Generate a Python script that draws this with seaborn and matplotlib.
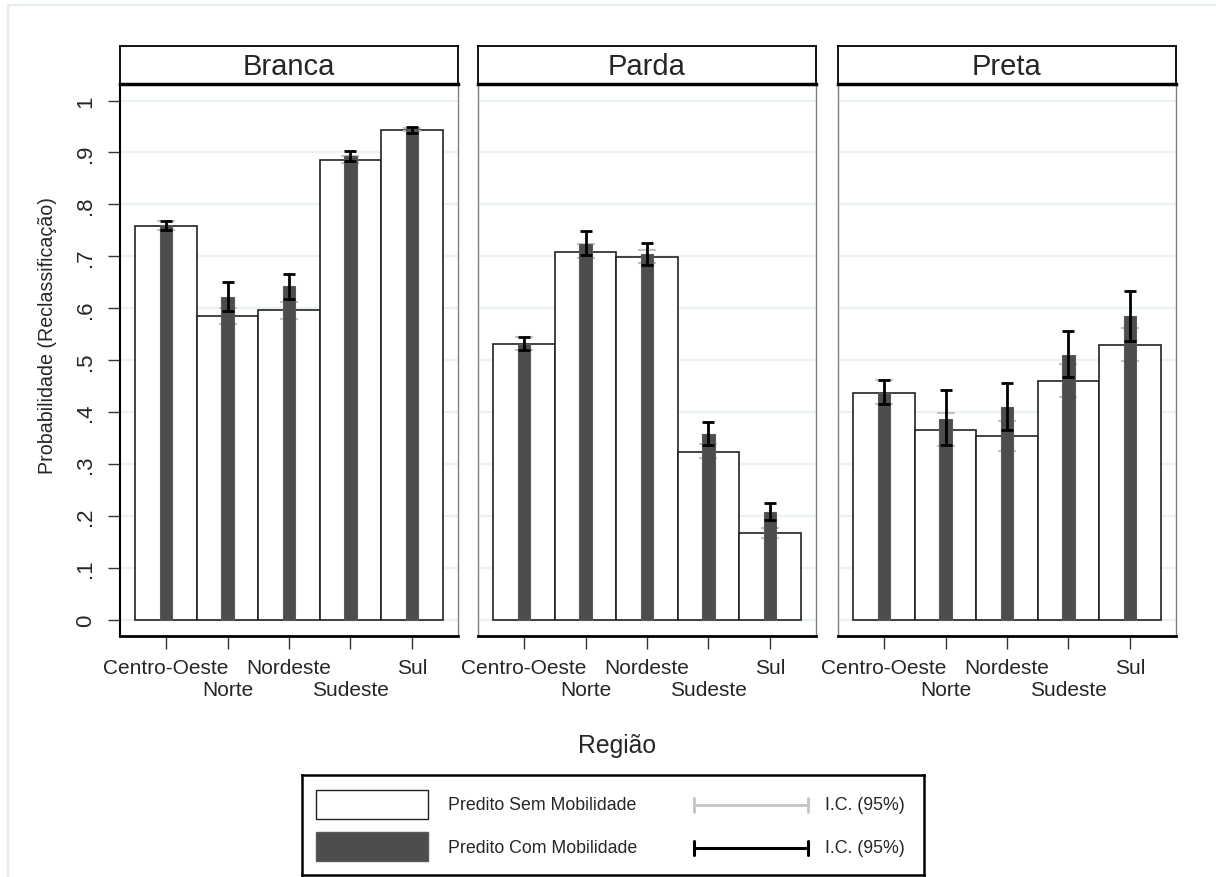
import numpy as np
import pandas as pd
import seaborn as sns
import matplotlib.pyplot as plt
from matplotlib.patches import Rectangle

sns.set_style('white')
plt.rcParams['font.family'] = ['Liberation Sans', 'DejaVu Sans']

regioes = ['Centro-Oeste', 'Norte', 'Nordeste', 'Sudeste', 'Sul']
grupos = ['Branca', 'Parda', 'Preta']

# predito sem mobilidade (barras brancas) + IC
branca_sem = [0.758, 0.585, 0.596, 0.886, 0.944]
branca_sem_lo = [0.750, 0.569, 0.580, 0.880, 0.941]
branca_sem_hi = [0.768, 0.601, 0.612, 0.893, 0.947]
parda_sem = [0.531, 0.708, 0.699, 0.323, 0.168]
parda_sem_lo = [0.520, 0.696, 0.687, 0.311, 0.158]
parda_sem_hi = [0.545, 0.723, 0.713, 0.338, 0.178]
preta_sem = [0.437, 0.366, 0.354, 0.460, 0.529]
preta_sem_lo = [0.415, 0.334, 0.326, 0.430, 0.498]
preta_sem_hi = [0.462, 0.399, 0.384, 0.492, 0.563]

# predito com mobilidade (barras escuras) + IC
branca_com = [0.760, 0.622, 0.642, 0.893, 0.943]
branca_com_lo = [0.750, 0.594, 0.617, 0.883, 0.938]
branca_com_hi = [0.769, 0.650, 0.666, 0.902, 0.949]
parda_com = [0.531, 0.724, 0.705, 0.358, 0.208]
parda_com_lo = [0.520, 0.702, 0.683, 0.337, 0.192]
parda_com_hi = [0.544, 0.748, 0.726, 0.382, 0.226]
preta_com = [0.437, 0.387, 0.410, 0.510, 0.585]
preta_com_lo = [0.415, 0.337, 0.366, 0.467, 0.537]
preta_com_hi = [0.462, 0.442, 0.457, 0.557, 0.633]

sem = [branca_sem, parda_sem, preta_sem]
sem_lo = [branca_sem_lo, parda_sem_lo, preta_sem_lo]
sem_hi = [branca_sem_hi, parda_sem_hi, preta_sem_hi]
com = [branca_com, parda_com, preta_com]
com_lo = [branca_com_lo, parda_com_lo, preta_com_lo]
com_hi = [branca_com_hi, parda_com_hi, preta_com_hi]

W, H = 1216, 878
fig = plt.figure(figsize=(W / 100, H / 100), dpi=100)

# faint outer frame (graph region)
fig.patches.append(Rectangle((8 / W, -0.01), 1.05, 1 - 6 / H + 0.01, transform=fig.transFigure,
                             fill=False, edgecolor='#e4ecf0', lw=1.5))

dark = '#4d4d4d'
grid_c = '#eaf2f3'
lefts = [120, 478, 838]
pw = 338
top_px, bot_px = 85, 637
strip_top = 47

for i, g in enumerate(grupos):
    ax = fig.add_axes([lefts[i] / W, 1 - bot_px / H, pw / W, (bot_px - top_px) / H])
    df = pd.DataFrame({'regiao': regioes, 'sem': sem[i], 'com': com[i]})

    sns.barplot(data=df, x='regiao', y='sem', order=regioes, ax=ax, color='white',
                edgecolor='#222222', linewidth=1.2, width=1.0, errorbar=None, saturation=1)
    for p in ax.patches:
        p.set_zorder(2)
    n0 = len(ax.patches)

    x = np.arange(len(regioes))
    lo, hi = np.array(sem_lo[i]), np.array(sem_hi[i])
    ax.errorbar(x, (lo + hi) / 2, yerr=(hi - lo) / 2, fmt='none', ecolor='#c4c4c4',
                elinewidth=1.5, capsize=6.5, capthick=1.5, zorder=3)

    sns.barplot(data=df, x='regiao', y='com', order=regioes, ax=ax, color=dark,
                edgecolor='#5a5a5a', linewidth=0.8, width=0.2, errorbar=None, saturation=1)
    for p in ax.patches[n0:]:
        p.set_zorder(4)

    lo, hi = np.array(com_lo[i]), np.array(com_hi[i])
    ax.errorbar(x, (lo + hi) / 2, yerr=(hi - lo) / 2, fmt='none', ecolor='black',
                elinewidth=2, capsize=4.5, capthick=2, zorder=5)

    ax.set_xlim(-0.75, 4.75)
    ax.set_ylim(-0.0308, 1.0318)
    ax.set_yticks(np.arange(0, 1.01, 0.1))
    ax.yaxis.grid(True, color=grid_c, lw=1.6, zorder=0)
    ax.set_axisbelow(True)
    ax.set_xlabel('')
    ax.set_ylabel('')

    ax.set_xticks(x)
    ax.set_xticklabels(regioes, fontsize=15)
    ax.tick_params(axis='x', bottom=True, length=9, width=1, color='#333333', pad=7)
    # staggered labels: every second one a row lower
    for k, lab in enumerate(ax.get_xticklabels()):
        if k % 2 == 1:
            lab.set_y(-0.04)

    if i == 0:
        ax.set_yticklabels(['0', '.1', '.2', '.3', '.4', '.5', '.6', '.7', '.8', '.9', '1'],
                           rotation=90, va='center', fontsize=16)
        ax.tick_params(axis='y', left=True, length=9, width=1, color='#333333', pad=8)
        ax.spines['left'].set_color('black')
        ax.spines['left'].set_linewidth(1.5)
    else:
        ax.set_yticklabels([])
        ax.tick_params(axis='y', left=False)
        ax.spines['left'].set_color('#808080')
        ax.spines['left'].set_linewidth(1)
    ax.spines['bottom'].set_color('black')
    ax.spines['bottom'].set_linewidth(2)
    ax.spines['right'].set_color('#808080')
    ax.spines['right'].set_linewidth(1)
    for s in ax.spines.values():
        s.set_visible(True)
    ax.spines['top'].set_visible(False)

    # strip header
    sax = fig.add_axes([lefts[i] / W, 1 - top_px / H, pw / W, (top_px - strip_top) / H])
    sax.set_xticks([])
    sax.set_yticks([])
    for s in sax.spines.values():
        s.set_color('black')
        s.set_linewidth(1.3)
    sax.spines['bottom'].set_linewidth(2.5)
    sax.text(0.5, 0.47, g, ha='center', va='center', fontsize=21, transform=sax.transAxes)

fig.text(617 / W, 1 - 746 / H, 'Região', ha='center', va='center', fontsize=17.8)
fig.text(48 / W, 1 - 336 / H, 'Probabilidade (Reclassificação)', ha='center', va='center',
         rotation=90, fontsize=14.1)

# legend box drawn in figure pixel coords
lax = fig.add_axes([302 / W, 1 - 876 / H, 622 / W, 100 / H])
lax.set_xlim(302, 924)
lax.set_ylim(876, 776)
lax.set_xticks([])
lax.set_yticks([])
for s in lax.spines.values():
    s.set_color('black')
    s.set_linewidth(1.8)
lax.add_patch(Rectangle((316, 791), 112, 29, facecolor='white', edgecolor='#222222', lw=1))
lax.add_patch(Rectangle((316, 833), 112, 29, facecolor=dark, edgecolor='#5a5a5a', lw=1))
lax.text(448, 806, 'Predito Sem Mobilidade', va='center', ha='left', fontsize=12.8)
lax.text(448, 849, 'Predito Com Mobilidade', va='center', ha='left', fontsize=12.8)
lax.plot([694, 808], [806, 806], color='#c4c4c4', lw=2)
lax.plot([694, 694], [799, 813], color='#c4c4c4', lw=2)
lax.plot([808, 808], [799, 813], color='#c4c4c4', lw=2)
lax.plot([694, 808], [849, 849], color='black', lw=2.2)
lax.plot([694, 694], [842, 856], color='black', lw=2.2)
lax.plot([808, 808], [842, 856], color='black', lw=2.2)
lax.text(825, 806, 'I.C. (95%)', va='center', ha='left', fontsize=12.8)
lax.text(825, 849, 'I.C. (95%)', va='center', ha='left', fontsize=12.8)

fig.savefig('out.png', dpi=100)
